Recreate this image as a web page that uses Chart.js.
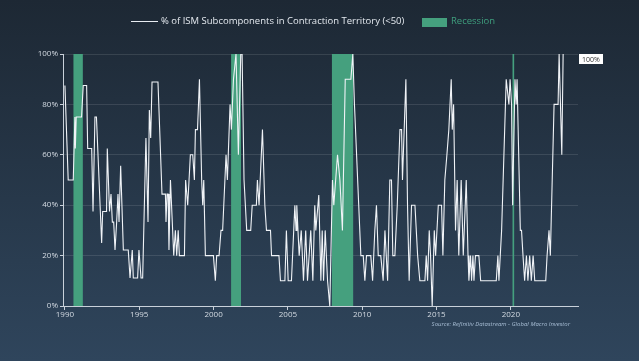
<!DOCTYPE html>
<html>
<head>
<meta charset="utf-8">
<script src="https://cdn.jsdelivr.net/npm/chart.js@4.4.1/dist/chart.umd.min.js"></script>
<style>
    html, body { margin: 0; padding: 0; }
    body {
        width: 639px; height: 361px; overflow: hidden; position: relative;
        background: linear-gradient(to bottom, #1d2834 0%, #2f455c 100%);
        font-family: "Open Sans", sans-serif;
    }
    #chartBox { position: absolute; left: 0; top: 0; width: 639px; height: 361px; }
    .lg { position: absolute; white-space: nowrap; font-size: 9.5px; line-height: 12px; }
    #lgLine { left: 131px; top: 21px; width: 27px; height: 1px; background: #e8edf2; }
    #lgText { left: 161px; top: 15px; color: #e4e9ef; }
    #lgBox { left: 422px; top: 18px; width: 25px; height: 9px; background: #45a07e; }
    #lgRec { left: 451px; top: 15px; color: #3f9f7e; }
    #source {
        position: absolute; right: 69px; top: 320px; white-space: nowrap;
        font-size: 6px; font-style: italic; color: #a9bfd6;
    }
</style>
</head>
<body>
<div id="chartBox"><canvas id="ismChart" width="639" height="361"></canvas></div>
<div class="lg" id="lgLine"></div>
<div class="lg" id="lgText">% of ISM Subcomponents in Contraction Territory (&lt;50)</div>
<div class="lg" id="lgBox"></div>
<div class="lg" id="lgRec">Recession</div>
<div id="source">Source: Refinitiv Datastream - Global Macro Investor</div>

<script>
// ================================
// Data
// ================================

const ismYears = [
    1990.00, 1990.22, 1990.56, 1990.67, 1990.70, 1990.76, 1991.12, 1991.23, 1991.46, 1991.53,
    1991.80, 1991.89, 1992.02, 1992.12, 1992.47, 1992.54, 1992.80, 1992.85, 1993.00, 1993.10,
    1993.19, 1993.28, 1993.37, 1993.48, 1993.57, 1993.64, 1993.75, 1993.93, 1994.26, 1994.38,
    1994.53, 1994.60, 1994.89, 1994.98, 1995.12, 1995.23, 1995.45, 1995.59, 1995.68, 1995.77,
    1995.86, 1996.26, 1996.53, 1996.76, 1996.80, 1996.87, 1996.94, 1997.00, 1997.10, 1997.32,
    1997.43, 1997.52, 1997.62, 1997.70, 1998.04, 1998.12, 1998.26, 1998.44, 1998.60, 1998.71,
    1998.78, 1998.92, 1999.05, 1999.20, 1999.27, 1999.34, 1999.45, 1999.99, 2000.12, 2000.21,
    2000.37, 2000.50, 2000.61, 2000.84, 2000.93, 2001.11, 2001.20, 2001.34, 2001.51, 2001.67,
    2001.83, 2001.92, 2002.05, 2002.23, 2002.50, 2002.60, 2002.88, 2002.95, 2003.06, 2003.29,
    2003.45, 2003.56, 2003.83, 2003.90, 2004.40, 2004.50, 2004.80, 2004.90, 2005.02, 2005.24,
    2005.47, 2005.55, 2005.60, 2005.76, 2005.90, 2006.05, 2006.20, 2006.32, 2006.54, 2006.68,
    2006.81, 2006.88, 2007.08, 2007.22, 2007.31, 2007.40, 2007.51, 2007.67, 2007.82, 2008.00,
    2008.09, 2008.34, 2008.50, 2008.67, 2008.86, 2009.24, 2009.37, 2009.48, 2009.91, 2010.07,
    2010.18, 2010.29, 2010.58, 2010.70, 2010.85, 2010.96, 2011.08, 2011.25, 2011.41, 2011.53,
    2011.71, 2011.86, 2011.97, 2012.06, 2012.20, 2012.36, 2012.54, 2012.65, 2012.71, 2012.94,
    2013.05, 2013.16, 2013.32, 2013.55, 2013.73, 2013.88, 2014.22, 2014.31, 2014.40, 2014.51,
    2014.60, 2014.71, 2014.85, 2014.94, 2015.12, 2015.34, 2015.43, 2015.56, 2015.70, 2015.83,
    2015.99, 2016.06, 2016.15, 2016.28, 2016.39, 2016.50, 2016.66, 2016.80, 2017.00, 2017.12,
    2017.18, 2017.29, 2017.36, 2017.45, 2017.52, 2017.62, 2017.85, 2017.97, 2019.02, 2019.13,
    2019.20, 2019.38, 2019.69, 2019.87, 2019.95, 2020.05, 2020.12, 2020.28, 2020.36, 2020.42,
    2020.64, 2020.72, 2020.82, 2020.93, 2021.05, 2021.15, 2021.27, 2021.38, 2021.50, 2021.61,
    2022.35, 2022.44, 2022.57, 2022.66, 2022.91, 2023.18, 2023.25, 2023.43, 2023.52
];

const ismValues = [
    87.5, 50, 50, 75, 62.5, 75, 75, 87.5, 87.5, 62.5,
    62.5, 37.5, 75, 75, 25, 37.5, 37.5, 62.5, 37.5, 44.4,
    33.3, 33.3, 22.2, 33.3, 44.4, 33.3, 55.6, 22.2, 22.2, 11.1,
    22.2, 11.1, 11.1, 22.2, 11.1, 11.1, 66.7, 33.3, 77.8, 66.7,
    88.9, 88.9, 44.4, 44.4, 33.3, 44.4, 44.4, 22.2, 50, 20,
    30, 20, 30, 20, 20, 50, 40, 60, 60, 50,
    70, 70, 90, 50, 40, 50, 20, 20, 10, 20,
    20, 30, 30, 60, 50, 80, 70, 90, 100, 60,
    100, 100, 50, 30, 30, 40, 40, 50, 40, 70,
    40, 30, 30, 20, 20, 10, 10, 30, 10, 10,
    40, 30, 40, 20, 30, 10, 30, 10, 30, 10,
    40, 30, 44, 10, 30, 10, 30, 10, 0, 50,
    40, 60, 50, 30, 90, 90, 100, 80, 20, 20,
    10, 20, 20, 10, 30, 40, 20, 20, 10, 30,
    10, 50, 50, 20, 20, 40, 70, 70, 50, 90,
    40, 10, 40, 40, 20, 10, 10, 20, 10, 30,
    20, 0, 30, 20, 40, 40, 20, 50, 60, 70,
    90, 70, 80, 30, 50, 20, 50, 20, 50, 20,
    10, 20, 10, 20, 10, 20, 20, 10, 10, 20,
    10, 30, 90, 80, 90, 80, 40, 90, 80, 90,
    30, 30, 20, 10, 20, 10, 20, 10, 20, 10,
    10, 20, 30, 20, 80, 80, 100, 60, 100
];

// recession periods (start / end, decimal years)
const recessionStart = [1990.56, 2001.18, 2007.95, 2020.10];
const recessionEnd = [1991.21, 2001.85, 2009.41, 2020.24];

// axis ticks
const yearTicks = [1990, 1995, 2000, 2005, 2010, 2015, 2020];
const pctTicks = [0, 20, 40, 60, 80, 100];

// ================================
// Datasets
// ================================

const ismPoints = ismYears.map((yr, i) => ({ x: yr, y: ismValues[i] }));

const datasets = [
    {
        label: "% of ISM Subcomponents in Contraction Territory (<50)",
        data: ismPoints,
        borderColor: "#f0f3f7",
        borderWidth: 1.1,
        pointRadius: 0,
        tension: 0,
        fill: false,
        order: 0
    }
];

recessionStart.forEach((start, i) => {
    datasets.push({
        label: "Recession",
        data: [{ x: start, y: 100 }, { x: recessionEnd[i], y: 100 }],
        borderWidth: 0,
        borderColor: "rgba(0,0,0,0)",
        backgroundColor: "#45a07e",
        pointRadius: 0,
        fill: "origin",
        order: 1
    });
});

// last value box on the right
const lastValueLabel = {
    id: "lastValueLabel",
    afterDatasetsDraw(chart) {
        const c = chart.ctx;
        const area = chart.chartArea;
        const last = ismValues[ismValues.length - 1];
        let y = chart.scales.y.getPixelForValue(last);
        y = Math.max(y, area.top) + 5;
        const x = area.right + 1;
        c.save();
        c.fillStyle = "#ffffff";
        c.fillRect(x, y - 5, 24, 10);
        c.fillStyle = "#333333";
        c.font = "7px 'Open Sans', sans-serif";
        c.textAlign = "center";
        c.textBaseline = "middle";
        c.fillText(last + "%", x + 12, y + 0.5);
        c.restore();
    }
};

// ================================
// Chart
// ================================

const ctx = document.getElementById("ismChart").getContext("2d");

const chart = new Chart(ctx, {
    type: "line",
    data: { datasets: datasets },
    plugins: [lastValueLabel],
    options: {
        responsive: false,
        animation: false,
        layout: {
            padding: { left: 0, right: 61, top: 54, bottom: 0 }
        },
        plugins: {
            legend: { display: false },
            tooltip: { enabled: false }
        },
        scales: {
            x: {
                type: "linear",
                min: 1989.87,
                max: 2024.52,
                afterFit: s => { s.height = 55; },
                afterBuildTicks: s => { s.ticks = yearTicks.map(v => ({ value: v })); },
                ticks: {
                    color: "#d3dae2",
                    font: { family: "Open Sans", size: 8 },
                    padding: 0,
                    maxRotation: 0,
                    callback: v => String(v)
                },
                grid: {
                    drawOnChartArea: false,
                    drawTicks: true,
                    tickLength: 4,
                    tickColor: "#c9d1da"
                },
                border: { color: "#c9d1da", width: 1 }
            },
            y: {
                min: 0,
                max: 100,
                afterFit: s => { s.width = 63; },
                afterBuildTicks: s => { s.ticks = pctTicks.map(v => ({ value: v })); },
                ticks: {
                    color: "#d3dae2",
                    font: { family: "Open Sans", size: 8 },
                    padding: 2,
                    callback: v => v + "%"
                },
                grid: {
                    color: "rgba(255,255,255,0.11)",
                    tickColor: "#c9d1da",
                    tickLength: 3
                },
                border: { color: "#c9d1da", width: 1 }
            }
        }
    }
});
</script>
</body>
</html>
